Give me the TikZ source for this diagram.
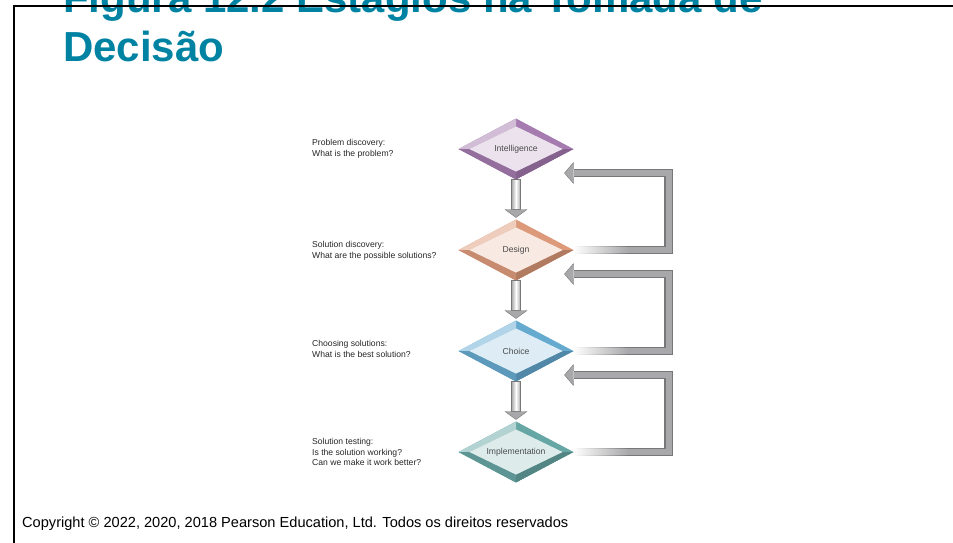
\documentclass[tikz,border=0pt]{standalone}
\usepackage{fontspec}
\setmainfont{Liberation Sans}
\usetikzlibrary{shapes.geometric,calc,fadings}
\definecolor{titleteal}{HTML}{0083A3}
\definecolor{bandgray}{HTML}{A8A8AA}
\definecolor{edgegray}{HTML}{77777A}
\definecolor{intc}{HTML}{A57BB0}
\definecolor{desc}{HTML}{DD9A7B}
\definecolor{choc}{HTML}{66AAD0}
\definecolor{impc}{HTML}{66A6A4}
\begin{document}
\begin{tikzpicture}[x=1pt,y=-1pt,
  stage/.style={diamond,aspect=1.9,minimum width=115pt,minimum height=61pt,inner sep=1pt,outer sep=0pt,
    font=\fontsize{8.6}{10}\selectfont,text=black!70,fill=#1,
    path picture={
      \path (path picture bounding box.west) coordinate (pw) (path picture bounding box.north) coordinate (pn)
        (path picture bounding box.east) coordinate (pe) (path picture bounding box.south) coordinate (ps)
        (path picture bounding box.center) coordinate (pc);
      \fill[#1!50!white] (pw) -- (pn) -- ($(pc)!0.74!(pn)$) -- ($(pc)!0.81!(pw)$) -- cycle;
      \fill[#1!80!black] (pe) -- (ps) -- ($(pc)!0.74!(ps)$) -- ($(pc)!0.81!(pe)$) -- cycle;
      \fill[#1!90!black] (pw) -- (ps) -- ($(pc)!0.74!(ps)$) -- ($(pc)!0.81!(pw)$) -- cycle;
      \fill[#1!22!white] ($(pc)!0.81!(pw)$) -- ($(pc)!0.74!(pn)$) -- ($(pc)!0.81!(pe)$) -- ($(pc)!0.74!(ps)$) -- cycle;}},
  note/.style={anchor=west,align=left,inner sep=0pt,font=\fontsize{8.6}{10.5}\selectfont,text=black!85}]
  \useasboundingbox (0,0) rectangle (953,542);
  % title and frame
  \node[anchor=base west,inner sep=0pt,text=titleteal,font=\fontsize{42}{48}\selectfont\bfseries] (title1) at (63,12.5) {Figura 12.2 Estágios na Tomada de};
  \node[anchor=base west,inner sep=0pt,text=titleteal,font=\fontsize{42}{48}\selectfont\bfseries] (title2) at (63,61) {Decisão};
  \draw[line width=2.5pt] (14,545) -- (14,6) -- (956,6);
  \node[anchor=base west,inner sep=0pt,font=\fontsize{14.6}{17}\selectfont] (copy) at (22,527) {Copyright © 2022, 2020, 2018 Pearson Education, Ltd. Todos os direitos reservados};
  % stages
  \foreach \n/\c/\t [count=\i] in {int/intc/Intelligence,des/desc/Design,cho/choc/Choice,imp/impc/Implementation}
    {\node[stage=\c] (\n) at (516,48+101*\i) {\t};}
  \node[note] (nint) at (312,149) {Problem discovery:\\What is the problem?};
  \node[note] (ndes) at (312,251) {Solution discovery:\\What are the possible solutions?};
  \node[note] (ncho) at (312,349) {Choosing solutions:\\What is the best solution?};
  \node[note] (nimp) at (312,452) {Solution testing:\\Is the solution working?\\Can we make it work better?};
  % down arrows
  \foreach \p/\q in {int/des,des/cho,cho/imp}
  {\shade[draw=edgegray,left color=bandgray,right color=bandgray,middle color=white]
     ([xshift=-4.5pt]\p.south) rectangle ([xshift=4.5pt,yshift=10pt]\q.north);
   \filldraw[fill=bandgray,draw=edgegray,line join=round] ([xshift=-11pt,yshift=10pt]\q.north)
     -- ([xshift=11pt,yshift=10pt]\q.north) -- ([yshift=2pt]\q.north) -- cycle;}
  % feedback loops
  \foreach \p/\q in {int/des,des/cho,cho/imp}
  {\coordinate (r\q) at ([xshift=95pt]\q.east);
   \coordinate (h\q) at ([yshift=-24pt]\p.east);
   \coordinate (t\q) at ([xshift=-9pt,yshift=-24pt]\p.east);
   \draw[edgegray,line width=8.5pt] (\q.east) -- (r\q) |- (h\q);
   \draw[bandgray,line width=6pt] (\q.east) -- (r\q) |- (h\q);
   \fill[white,path fading=east] ([yshift=4.5pt]\q.east) rectangle ([xshift=55pt,yshift=-4.5pt]\q.east);
   \fill[bandgray] ([yshift=10.5pt]h\q) -- (t\q) -- ([yshift=-10.5pt]h\q) -- cycle;
   \draw[edgegray,line join=round] ([yshift=4.25pt]h\q) -- ([yshift=10.5pt]h\q) -- (t\q)
     -- ([yshift=-10.5pt]h\q) -- ([yshift=-4.25pt]h\q);}
\end{tikzpicture}
\end{document}
